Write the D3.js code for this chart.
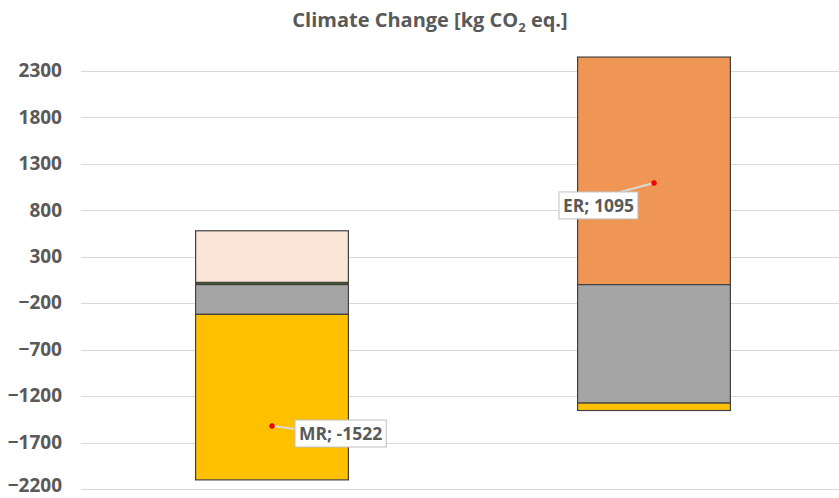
<!DOCTYPE html>
<html><head><meta charset="utf-8">
<script src="https://cdn.jsdelivr.net/npm/d3@7"></script>
<style>body{margin:0;background:#fff;} svg{display:block;}</style>
</head><body>
<script>
const categories = ["MR", "ER"];
const seriesNames = ["Green", "Pink", "Orange", "Gray", "Yellow"];
const greenVals  = [25, 0];
const pinkVals   = [555, 0];
const orangeVals = [0, 2450];
const grayVals   = [-320, -1275];
const yellowVals = [-1782, -80];
const netVals    = [-1522, 1095];
const tickVals   = [2300, 1800, 1300, 800, 300, -200, -700, -1200, -1700, -2200];
const colors = {Green:"#385723", Pink:"#FBE5D6", Orange:"#EF9654", Gray:"#A5A5A5", Yellow:"#FFC000"};

const W = 839, H = 498;
const svg = d3.select("body").append("svg").attr("width", W).attr("height", H);
const font = "'Open Sans', sans-serif";

const y = d3.scaleLinear().domain([-2200, 2300]).range([489, 71]);
const x = d3.scaleBand().domain(categories).range([81, 845]).padding(0);

// gridlines
svg.append("g").selectAll("line").data(tickVals).join("line")
  .attr("x1", 81).attr("x2", W).attr("y1", d => Math.round(y(d)) + 0.5).attr("y2", d => Math.round(y(d)) + 0.5)
  .attr("stroke", "#D9D9D9").attr("stroke-width", 1);

// y axis labels
const yAxis = d3.axisLeft(y).tickValues(tickVals).tickSize(0).tickPadding(0).tickFormat(d3.format("d"));
const ga = svg.append("g").attr("transform", "translate(62,0)").call(yAxis);
ga.select(".domain").remove();
ga.selectAll("text").attr("font-family", font).attr("font-weight", "bold").attr("font-size", 19).attr("fill", "#595959")
  .attr("dy", d => d === -2200 ? "0.12em" : "0.3em");

// stacked data
const rows = categories.map((c, i) => ({cat: c, Green: greenVals[i], Pink: pinkVals[i], Orange: orangeVals[i], Gray: grayVals[i], Yellow: yellowVals[i]}));
const stack = d3.stack().keys(seriesNames).offset(d3.stackOffsetDiverging);
const layers = stack(rows);
const bw = x.bandwidth() * 0.4;

svg.append("g").selectAll("g").data(layers).join("g")
  .attr("fill", d => colors[d.key])
  .selectAll("rect").data(d => d.filter(s => s[1] !== s[0])).join("rect")
  .attr("x", d => x(d.data.cat) + (x.bandwidth() - bw) / 2)
  .attr("width", bw)
  .attr("y", d => y(Math.max(d[0], d[1])))
  .attr("height", d => Math.abs(y(d[0]) - y(d[1])))
  .attr("stroke", "#404040").attr("stroke-width", 1.2);

// net points with labels
const labelOff = {MR: {dx: 23, dy: -6, lx: 0, ly: 9}, ER: {dx: -95, dy: 9, lx: 61, ly: 0}};
const pts = svg.append("g");
categories.forEach((c, i) => {
  const cx = x(c) + x.bandwidth() / 2, cy = y(netVals[i]);
  const txt = c + "; " + netVals[i];
  const o = labelOff[c];
  const g = pts.append("g");
  const t = g.append("text").attr("font-family", font).attr("font-weight", "bold").attr("font-size", 17.5)
    .attr("fill", "#595959").text(txt);
  const tw = t.node().getComputedTextLength();
  const bx = cx + o.dx, by = cy + o.dy;
  const bwid = tw + 8, bh = 27;
  t.attr("x", bx + 4).attr("y", by + 20);
  g.insert("line", "text").attr("x1", cx).attr("y1", cy).attr("x2", bx + o.lx).attr("y2", by + o.ly)
    .attr("stroke", "#D9D9D9").attr("stroke-width", 2);
  g.insert("rect", "text").attr("x", bx).attr("y", by).attr("width", bwid).attr("height", bh)
    .attr("fill", "#fff").attr("stroke", "#BFBFBF").attr("stroke-width", 1);
  g.append("circle").attr("cx", cx).attr("cy", cy).attr("r", 2.5).attr("fill", "#FF0000").attr("stroke", "#C00000").attr("stroke-width", 0.5);
});

// title
const title = svg.append("text").attr("x", 430).attr("y", 27).attr("text-anchor", "middle")
  .attr("font-family", font).attr("font-weight", "bold").attr("font-size", 20).attr("fill", "#595959");
title.append("tspan").text("Climate Change [kg CO");
title.append("tspan").attr("font-size", 13).attr("dy", 5).text("2");
title.append("tspan").attr("dy", -5).text(" eq.]");
</script>
</body></html>
